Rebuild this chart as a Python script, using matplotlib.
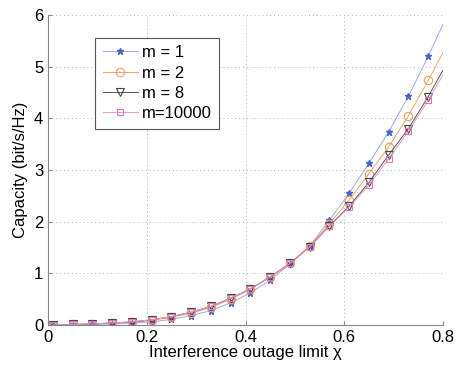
import matplotlib
matplotlib.use('Agg')
import matplotlib.pyplot as plt
import numpy as np

plt.rcParams['font.family'] = ['Liberation Sans', 'DejaVu Sans']

# Interference outage limit (marker positions + curve end)
chi = [0.01, 0.05, 0.09, 0.13, 0.17, 0.21, 0.25, 0.29, 0.33, 0.37, 0.41,
       0.45, 0.49, 0.53, 0.57, 0.61, 0.65, 0.69, 0.73, 0.77, 0.80]

# Capacity (bit/s/Hz) for each m
cap_m1 = [0.0, 0.0, 0.01, 0.02, 0.04, 0.06, 0.11, 0.18, 0.28, 0.43, 0.62,
          0.87, 1.18, 1.53, 2.03, 2.55, 3.13, 3.74, 4.43, 5.20, 5.82]
cap_m2 = [0.0, 0.01, 0.02, 0.03, 0.05, 0.09, 0.15, 0.23, 0.34, 0.50, 0.69,
          0.93, 1.20, 1.52, 1.96, 2.42, 2.93, 3.45, 4.05, 4.73, 5.27]
cap_m8 = [0.0, 0.01, 0.02, 0.04, 0.06, 0.10, 0.16, 0.25, 0.36, 0.52, 0.70,
          0.93, 1.19, 1.51, 1.92, 2.30, 2.76, 3.29, 3.80, 4.42, 4.93]
cap_m10000 = [0.0, 0.01, 0.02, 0.04, 0.06, 0.10, 0.16, 0.25, 0.36, 0.52, 0.70,
              0.93, 1.19, 1.51, 1.91, 2.28, 2.71, 3.22, 3.75, 4.35, 4.84]

labels = ['m = 1', 'm = 2', 'm = 8', 'm=10000']

fig = plt.figure(figsize=(4.62, 3.71), dpi=100)
ax = fig.add_axes([0.104, 0.124, 0.855, 0.836])

marks = list(range(len(chi) - 1))
ax.plot(chi, cap_m1, color='#98aaea', lw=0.7, marker='*', ms=4.5,
        mec='#4a62cc', mfc='#4a62cc', markevery=marks, label=labels[0])
ax.plot(chi, cap_m2, color='#f2a566', lw=0.7, marker='o', ms=6,
        mec='#f0a05a', mfc='none', mew=0.8, markevery=marks, label=labels[1])
ax.plot(chi, cap_m8, color='#555555', lw=0.7, marker='v', ms=6,
        mec='#444444', mfc='none', mew=0.8, markevery=marks, label=labels[2])
ax.plot(chi, cap_m10000, color='#ea98c6', lw=0.7, marker='s', ms=5,
        mec='#e07ab6', mfc='none', mew=0.8, markevery=marks, label=labels[3])

ax.set_xlim(0, 0.8)
ax.set_ylim(0, 6)
ax.set_xticks([0, 0.2, 0.4, 0.6, 0.8])
ax.set_xticklabels(['0', '0.2', '0.4', '0.6', '0.8'])
ax.set_yticks(range(7))

ax.grid(True, linestyle=(0, (1, 3)), color='#b0b0b0', lw=0.7)
for s in ['top', 'right']:
    ax.spines[s].set_visible(False)
for s in ['left', 'bottom']:
    ax.spines[s].set_color('#888888')
ax.tick_params(direction='in', length=3, labelsize=12, color='#888888')

ax.set_xlabel('Interference outage limit χ', fontsize=12, labelpad=0)
ax.set_ylabel('Capacity (bit/s/Hz)', fontsize=12, labelpad=4)

leg = ax.legend(loc='upper left', bbox_to_anchor=(0.119, 0.926), fontsize=12,
                fancybox=False, edgecolor='#555555', framealpha=1,
                borderaxespad=0, handlelength=2.1, handletextpad=0.25,
                borderpad=0.45, labelspacing=0.32)
leg.get_frame().set_linewidth(0.8)

plt.savefig('out.png', dpi=100)
plt.close()
